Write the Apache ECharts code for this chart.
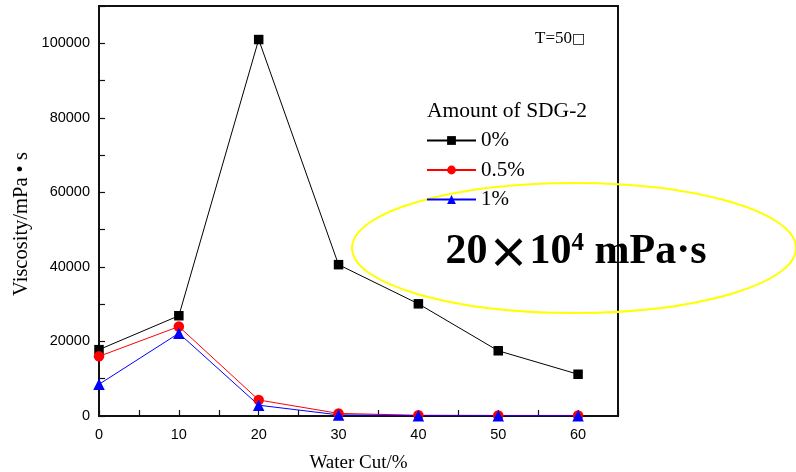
<!DOCTYPE html>
<html>
<head>
<meta charset="utf-8">
<script src="https://cdn.jsdelivr.net/npm/echarts@6/dist/echarts.min.js"></script>
<style>
  html, body { margin: 0; padding: 0; background: #fff; }
  #chart { width: 796px; height: 472px; }
</style>
</head>
<body>
<div id="chart"></div>
<script>
  // water cut, %
  var waterCut = [0, 10, 20, 30, 40, 50, 60];
  // viscosity, mPa·s, per SDG-2 dosage
  var sdg0 = [17800, 26900, 101000, 40600, 30100, 17500, 11200];
  var sdg05 = [16000, 24000, 4300, 700, 200, 150, 150];
  var sdg1 = [8500, 22200, 2900, 300, 100, 80, 80];
  var seriesNames = ['0%', '0.5%', '1%'];

  var serif = 'Liberation Serif';
  var sans = 'Liberation Sans';

  function pairs(ys) {
    return waterCut.map(function (x, i) { return [x, ys[i]]; });
  }

  var chart = echarts.init(document.getElementById('chart'));

  var option = {
    backgroundColor: '#fff',
    animation: false,
    grid: {
      left: 99,
      right: 178,
      top: 6,
      bottom: 56,
      outerBoundsMode: 'none',
      containLabel: false,
      show: true,
      borderColor: '#111',
      borderWidth: 2
    },
    legend: {
      orient: 'vertical',
      left: 426,
      top: 130,
      padding: 0,
      itemWidth: 49,
      itemHeight: 11,
      itemGap: 8.5,
      data: seriesNames,
      textStyle: { fontFamily: serif, fontSize: 21, lineHeight: 21, color: '#000' }
    },
    xAxis: {
      type: 'value',
      min: 0,
      max: 65,
      interval: 5,
      name: 'Water Cut/%',
      nameLocation: 'middle',
      nameGap: 38,
      nameTextStyle: { fontFamily: serif, fontSize: 19, color: '#000' },
      axisLine: { lineStyle: { color: '#111', width: 2 } },
      axisTick: { inside: true, length: 6, lineStyle: { color: '#111', width: 1.2 } },
      axisLabel: {
        margin: 11,
        fontFamily: sans,
        fontSize: 14.5,
        color: '#000',
        formatter: function (v) { return v % 10 === 0 ? String(v) : ''; }
      },
      splitLine: { show: false }
    },
    yAxis: {
      type: 'value',
      min: 0,
      max: 110000,
      interval: 10000,
      axisLine: { show: true, lineStyle: { color: '#111', width: 2 } },
      axisTick: { show: true, inside: true, length: 6, lineStyle: { color: '#111', width: 1.2 } },
      axisLabel: {
        margin: 9,
        fontFamily: sans,
        fontSize: 14.5,
        color: '#000',
        formatter: function (v) { return v % 20000 === 0 ? String(v) : ''; }
      },
      splitLine: { show: false }
    },
    graphic: [
      {
        type: 'text',
        x: 22,
        y: 224,
        rotation: Math.PI / 2,
        style: {
          text: 'Viscosity/mPa • s',
          font: '20.5px ' + serif,
          fill: '#000',
          align: 'center',
          verticalAlign: 'middle'
        }
      },
      {
        type: 'text',
        x: 427,
        y: 111,
        style: {
          text: 'Amount of SDG-2',
          font: '21.5px ' + serif,
          fill: '#000',
          align: 'left',
          verticalAlign: 'middle'
        }
      },
      {
        type: 'text',
        x: 535,
        y: 39,
        style: {
          text: '{t|T=50}{b|□}',
          align: 'left',
          verticalAlign: 'middle',
          rich: {
            t: { fontFamily: serif, fontSize: 17, color: '#000' },
            b: { fontFamily: 'DejaVu Sans', fontSize: 14, color: '#aaa' }
          }
        }
      },
      {
        type: 'ellipse',
        shape: { cx: 574, cy: 248, rx: 222, ry: 65 },
        style: { fill: 'none', stroke: '#ffff00', lineWidth: 2 }
      },
      {
        type: 'text',
        x: 576,
        y: 252,
        style: {
          text: '{a|20}{x|×}{a|10}{s|4}{a| mPa·s}',
          align: 'center',
          verticalAlign: 'middle',
          rich: {
            a: { fontFamily: serif, fontWeight: 'bold', fontSize: 42, color: '#0a0acc' },
            x: { fontFamily: 'Noto Sans CJK SC', fontWeight: 'bold', fontSize: 42, color: '#0a0acc' },
            s: { fontFamily: serif, fontWeight: 'bold', fontSize: 25, color: '#0a0acc', verticalAlign: 'top' }
          }
        }
      }
    ],
    series: [
      {
        name: seriesNames[0],
        type: 'line',
        data: pairs(sdg0),
        symbol: 'rect',
        symbolSize: 9.5,
        itemStyle: { color: '#000' },
        lineStyle: { color: '#000', width: 1 }
      },
      {
        name: seriesNames[1],
        type: 'line',
        data: pairs(sdg05),
        symbol: 'circle',
        symbolSize: 10.5,
        itemStyle: { color: '#ff0000' },
        lineStyle: { color: '#ff0000', width: 1 }
      },
      {
        name: seriesNames[2],
        type: 'line',
        data: pairs(sdg1),
        symbol: 'triangle',
        symbolSize: 11.5,
        itemStyle: { color: '#0000ff' },
        lineStyle: { color: '#0000ff', width: 1 }
      }
    ]
  };

  chart.setOption(option);
</script>
</body>
</html>
